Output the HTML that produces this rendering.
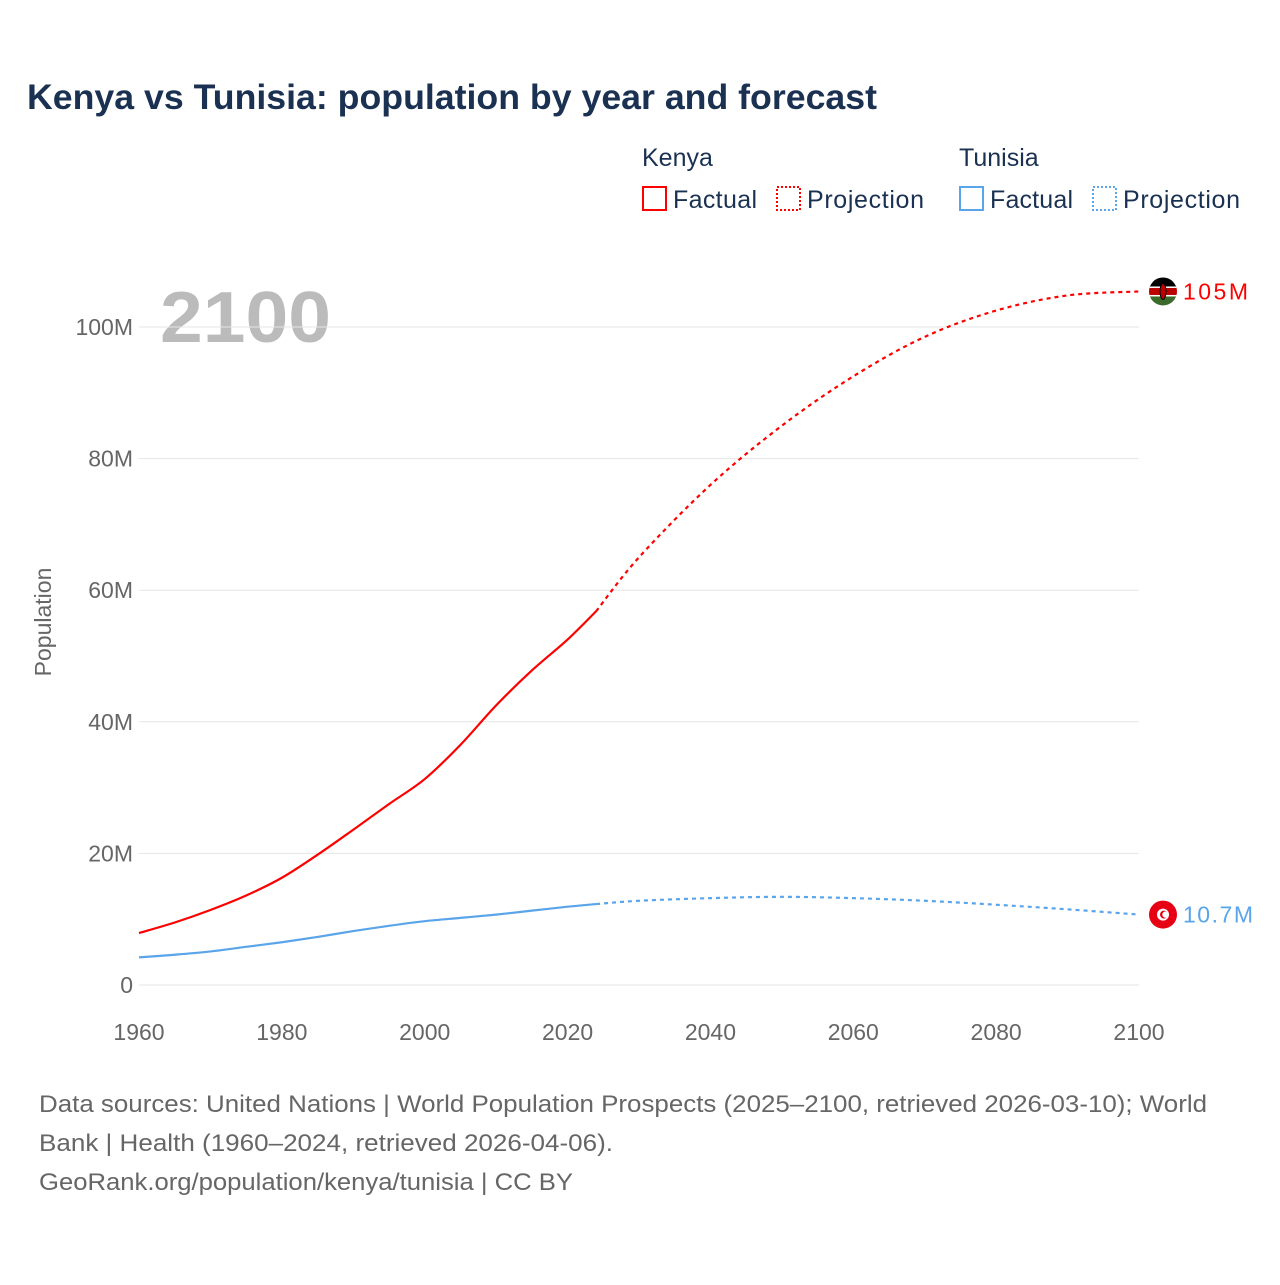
<!DOCTYPE html>
<html><head><meta charset="utf-8"><style>
body{margin:0;background:#fff;font-family:"Liberation Sans",sans-serif;}
svg text{font-family:"Liberation Sans",sans-serif;}
</style></head><body>
<svg id="c" width="1280" height="1280" xmlns="http://www.w3.org/2000/svg">
<text x="27" y="109" font-size="35" font-weight="bold" fill="#1a3152" textLength="850" lengthAdjust="spacingAndGlyphs">Kenya vs Tunisia: population by year and forecast</text>
<g font-size="25" fill="#1a3152">
<text x="642" y="166">Kenya</text>
<rect x="643" y="187" width="23" height="23" fill="none" stroke="#f00" stroke-width="2"/>
<text x="673" y="208" textLength="84">Factual</text>
<rect x="777" y="187" width="23" height="23" fill="none" stroke="#f00" stroke-width="2" stroke-dasharray="2,2"/>
<text x="807" y="208" textLength="117">Projection</text>
<text x="959" y="166">Tunisia</text>
<rect x="960" y="187" width="23" height="23" fill="none" stroke="#5aa5ea" stroke-width="2"/>
<text x="990" y="208" textLength="83">Factual</text>
<rect x="1093" y="187" width="23" height="23" fill="none" stroke="#5aa5ea" stroke-width="2" stroke-dasharray="2,2"/>
<text x="1123" y="208" textLength="117">Projection</text>
</g>
<text x="160" y="342" font-size="72" font-weight="bold" fill="#bbb" textLength="171" lengthAdjust="spacingAndGlyphs">2100</text>
<g id="grid"></g><g id="plot"></g>
<text transform="translate(51,622) rotate(-90)" text-anchor="middle" font-size="23" fill="#666">Population</text>
<g font-size="24" fill="#666">
<text x="39" y="1112" textLength="1168" lengthAdjust="spacingAndGlyphs">Data sources: United Nations | World Population Prospects (2025–2100, retrieved 2026-03-10); World</text>
<text x="39" y="1151" textLength="574" lengthAdjust="spacingAndGlyphs">Bank | Health (1960–2024, retrieved 2026-04-06).</text>
<text x="39" y="1190" textLength="534" lengthAdjust="spacingAndGlyphs">GeoRank.org/population/kenya/tunisia | CC BY</text>
</g>
</svg>
<script>
const yTicks=[0,20,40,60,80,100];
const xTicks=[1960,1980,2000,2020,2040,2060,2080,2100];
const kenyaYears=[1960,1965,1970,1975,1980,1985,1990,1995,2000,2005,2010,2015,2020,2024];
const kenyaPop=[7.9,9.5,11.4,13.6,16.3,19.8,23.6,27.5,31.3,36.5,42.5,47.8,52.5,56.8];
const kenyaProjYears=[2024,2030,2040,2050,2060,2070,2080,2090,2100];
const kenyaProjPop=[56.8,65,76,85,92.5,98.5,102.5,104.8,105.4];
const tunYears=[1960,1965,1970,1975,1980,1985,1990,1995,2000,2005,2010,2015,2020,2024];
const tunPop=[4.2,4.6,5.1,5.8,6.5,7.3,8.2,9.0,9.7,10.2,10.7,11.3,11.9,12.3];
const tunProjYears=[2024,2030,2040,2050,2060,2070,2080,2090,2100];
const tunProjPop=[12.3,12.8,13.2,13.4,13.2,12.8,12.2,11.5,10.7];
const NS='http://www.w3.org/2000/svg';
const X=y=>139+(y-1960)*1000/140, Y=v=>985-v*6.58;
const grid=document.getElementById('grid'),plot=document.getElementById('plot');
function mk(t,a,p){const e=document.createElementNS(NS,t);for(const k in a)e.setAttribute(k,a[k]);p.appendChild(e);return e;}
yTicks.forEach(v=>{
 const l=mk('line',{x1:139,x2:1139,y1:Y(v),y2:Y(v),stroke:'#e6e6e6','stroke-width':1},grid);
 
 
 const t=mk('text',{x:133,y:Y(v)+8,'text-anchor':'end','font-size':23,fill:'#666'},grid);
 t.textContent=v===0?'0':v+'M';
 
 
});
xTicks.forEach(v=>{
 const t=mk('text',{x:X(v),y:1040,'text-anchor':'middle','font-size':23,fill:'#666'},grid);
 t.textContent=v;
 
 
});
function path(xs,ys){let d='';const p=xs.map((x,i)=>[X(x),Y(ys[i])]);d='M'+p[0];for(let i=1;i<p.length;i++){const p0=p[i-2]||p[i-1],p1=p[i-1],p2=p[i],p3=p[i+1]||p[i];const c1=[p1[0]+(p2[0]-p0[0])/6,p1[1]+(p2[1]-p0[1])/6],c2=[p2[0]-(p3[0]-p1[0])/6,p2[1]-(p3[1]-p1[1])/6];d+='C'+c1+' '+c2+' '+p2;}return d;}
function line(xs,ys,c,dash,name){const e=mk('path',{d:path(xs,ys),fill:'none',stroke:c,'stroke-width':2.2,'stroke-dasharray':dash||'none'},plot);
 
 }
line(kenyaYears,kenyaPop,'#f00','', 'kenya-factual-line');
line(kenyaProjYears,kenyaProjPop,'#f00','4,4','kenya-projection-line');
line(tunYears,tunPop,'#5aa5ea','', 'tunisia-factual-line');
line(tunProjYears,tunProjPop,'#5aa5ea','4,4','tunisia-projection-line');
const ky=Y(kenyaProjPop[kenyaProjPop.length-1]), ty=Y(tunProjPop[tunProjPop.length-1]);
const kf=mk('g',{},plot);


mk('clipPath',{id:'kc'},kf).appendChild(document.createElementNS(NS,'circle')).setAttribute('r',14);
const kc=kf.querySelector('circle');kc.setAttribute('cx',1163);kc.setAttribute('cy',ky);
const kg=mk('g',{'clip-path':'url(#kc)'},kf);
mk('rect',{x:1149,y:ky-14,width:28,height:10,fill:'#000'},kg);
mk('rect',{x:1149,y:ky-4,width:28,height:8,fill:'#b00'},kg);
mk('rect',{x:1149,y:ky-5,width:28,height:1.5,fill:'#fff'},kg);
mk('rect',{x:1149,y:ky+3.5,width:28,height:1.5,fill:'#fff'},kg);
mk('rect',{x:1149,y:ky+5,width:28,height:9,fill:'#3a6b2a'},kg);
mk('ellipse',{cx:1163,cy:ky,rx:3,ry:8,fill:'#b00',stroke:'#000','stroke-width':1},kg);
const kl=mk('text',{x:1183,y:ky+8,'font-size':23,fill:'#f00',textLength:65},plot);kl.textContent='105M';


const tf=mk('g',{},plot);


mk('circle',{cx:1163,cy:ty,r:14,fill:'#e70013'},tf);
mk('circle',{cx:1163,cy:ty,r:6,fill:'#fff'},tf);
mk('circle',{cx:1164,cy:ty,r:4,fill:'#e70013'},tf);
mk('circle',{cx:1165.5,cy:ty,r:3.2,fill:'#fff'},tf);
const tl=mk('text',{x:1183,y:ty+8,'font-size':23,fill:'#5aa5ea',textLength:70},plot);tl.textContent='10.7M';


</script>
</body></html>
